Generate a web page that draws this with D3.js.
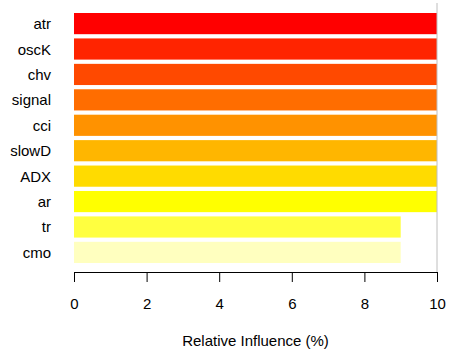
<!DOCTYPE html>
<html>
<head>
<meta charset="utf-8">
<script src="https://cdn.jsdelivr.net/npm/d3@7"></script>
<style>
  body { margin: 0; background: #fff; }
  svg { display: block; font-family: "Liberation Sans", Arial, sans-serif; }
</style>
</head>
<body>
<svg id="chart" width="454" height="363"></svg>
<script>
const categories = ["atr", "oscK", "chv", "signal", "cci", "slowD", "ADX", "ar", "tr", "cmo"];
const values = [10, 10, 10, 10, 10, 10, 10, 10, 9, 9];
const colors = ["#FF0000", "#FF2400", "#FF4900", "#FF6D00", "#FF9200", "#FFB600", "#FFDB00", "#FFFF00", "#FFFF40", "#FFFFBF"];
const tickValues = [0, 2, 4, 6, 8, 10];
const xTitle = "Relative Influence (%)";

const svg = d3.select("#chart");
const x = d3.scaleLinear().domain([0, 10]).range([74, 437]);
const y = d3.scaleBand().domain(categories).range([13, 263]).paddingInner(1/6).paddingOuter(0);

svg.selectAll("rect.bar").data(categories).join("rect")
  .attr("class", "bar")
  .attr("x", x(0))
  .attr("y", d => y(d))
  .attr("width", (d, i) => x(values[i]) - x(0))
  .attr("height", y.bandwidth())
  .attr("fill", (d, i) => colors[i]);

// reference line at max
svg.append("line")
  .attr("x1", x(10)).attr("x2", x(10))
  .attr("y1", 3).attr("y2", 272)
  .attr("stroke", "#bebebe").attr("stroke-width", 1);

svg.selectAll("text.cat").data(categories).join("text")
  .attr("class", "cat")
  .attr("x", 51)
  .attr("y", d => y(d) + y.bandwidth() / 2)
  .attr("text-anchor", "end")
  .attr("dominant-baseline", "central")
  .attr("font-size", 15)
  .attr("fill", "#000")
  .text(d => d);

const axis = d3.axisBottom(x).tickValues(tickValues).tickSize(10).tickPadding(16).tickFormat(d3.format("d"));
const g = svg.append("g").attr("transform", "translate(0,272)").call(axis);
g.select(".domain").attr("stroke", "#000").attr("d", `M${x(0)},0.5H${x(10)}`);
g.selectAll(".tick line").attr("stroke", "#000");
g.selectAll(".tick text").attr("font-size", 15).attr("fill", "#000").attr("font-family", "Liberation Sans, Arial, sans-serif");

svg.append("text")
  .attr("x", x(5))
  .attr("y", 340)
  .attr("text-anchor", "middle")
  .attr("dominant-baseline", "central")
  .attr("font-size", 15)
  .attr("fill", "#000")
  .text(xTitle);
</script>
</body>
</html>
